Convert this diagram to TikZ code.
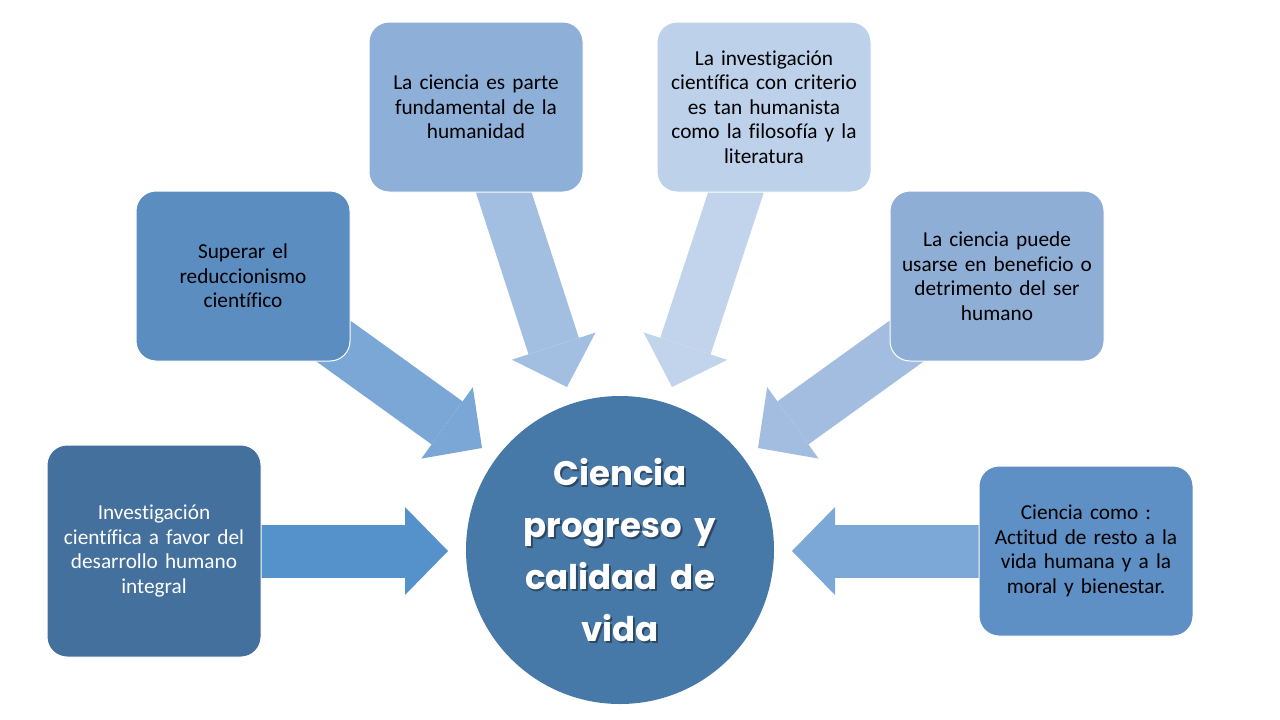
\documentclass[tikz,border=0pt]{standalone}
\usepackage{fontspec}
\setmainfont{Carlito}[Ligatures={NoCommon}]
\newfontfamily\circfont{Poppins}[WordSpace={1.8}]
\usetikzlibrary{arrows.meta,backgrounds}
\definecolor{cBoxA}{HTML}{43709D}
\definecolor{cBoxB}{HTML}{5B8DC1}
\definecolor{cBoxC}{HTML}{8EAFD7}
\definecolor{cBoxD}{HTML}{BDD1EA}
\definecolor{cBoxE}{HTML}{8EAED6}
\definecolor{cBoxF}{HTML}{5E8FC5}
\definecolor{cCirc}{HTML}{4779A8}
\definecolor{cShadow}{HTML}{2E4862}
\definecolor{cArrA}{HTML}{5592CB}
\definecolor{cArrB}{HTML}{7AA7D5}
\definecolor{cArrC}{HTML}{A2BFE1}
\definecolor{cArrD}{HTML}{C2D4EB}
\definecolor{cArrE}{HTML}{A2BDE0}
\definecolor{cArrF}{HTML}{7BA8D6}
\begin{document}
\begin{tikzpicture}[x=1pt,y=-1pt,
  box/.style={rectangle, rounded corners=20pt, draw=white, line width=1pt,
    minimum width=214pt, minimum height=170pt, text width=208pt, align=center,
    inner sep=0pt, font=\fontsize{21.3}{24.5}\selectfont},
  bigarrow/.style={line width=53pt, -{Triangle[length=43pt,width=88pt,line width=0pt]}},
  circtext/.style={align=center, inner sep=0pt, font=\circfont\bfseries\fontsize{34}{52}\selectfont}]
\useasboundingbox (0,0) rectangle (1280,720);

\node[box, fill=cBoxA, text=white, minimum height=212pt] (b1) at (154,551) {Investigación\\científica a favor del\\desarrollo humano\\integral};
\node[box, fill=cBoxB] (b2) at (243,276) {Superar el\\reduccionismo\\científico};
\node[box, fill=cBoxC] (b3) at (476,107) {La ciencia es parte\\fundamental de la\\humanidad};
\node[box, fill=cBoxD] (b4) at (764,107) {La investigación\\científica con criterio\\es tan humanista\\como la filosofía y la\\literatura};
\node[box, fill=cBoxE] (b5) at (997,276) {La ciencia puede\\usarse en beneficio o\\detrimento del ser\\humano};
\node[box, fill=cBoxF] (b6) at (1086,551) {Ciencia como :\\Actitud de resto a la\\vida humana y a la\\moral y bienestar.};

\node[circle, fill=cCirc, minimum size=308pt, inner sep=0pt] (c) at (620,550) {};
\node[circtext, text=cShadow] (cs) at ([shift={(1.8,1.8)}]c.center) {Ciencia\\progreso y\\calidad de\\vida};
\node[circtext, text=white] (ct) at (c.center) {Ciencia\\progreso y\\calidad de\\vida};

\coordinate (t1) at (448,551);
\coordinate (t2) at (482,448);
\coordinate (t3) at (567,387);
\coordinate (t4) at (672,387);
\coordinate (t5) at (758,448);
\coordinate (t6) at (792,551);

\begin{scope}[on background layer]
\fill[white] (0,0) rectangle (1280,720);
\draw[bigarrow, cArrA] (b1.center) -- (t1);
\draw[bigarrow, cArrB] (b2.center) -- (t2);
\draw[bigarrow, cArrC] (b3.center) -- (t3);
\draw[bigarrow, cArrD] (b4.center) -- (t4);
\draw[bigarrow, cArrE] (b5.center) -- (t5);
\draw[bigarrow, cArrF] (b6.center) -- (t6);
\end{scope}
\end{tikzpicture}
\end{document}
